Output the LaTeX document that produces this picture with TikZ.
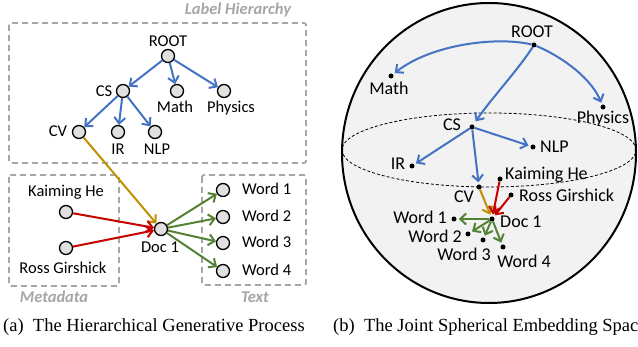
\documentclass[tikz,border=0pt]{standalone}
\usepackage{fontspec}
\newfontfamily\labfont{Carlito}
\newfontfamily\capfont{Liberation Serif}
\usetikzlibrary{arrows.meta}
\definecolor{cblue}{HTML}{4472C4}
\definecolor{cred}{HTML}{C80000}
\definecolor{cgold}{HTML}{BF9000}
\definecolor{cgreen}{HTML}{548235}
\definecolor{boxgray}{HTML}{A6A6A6}
\definecolor{cfill}{HTML}{E0E0E0}
\definecolor{sfill}{HTML}{F2F2F2}
\tikzset{
  lc/.style={circle,draw=black,fill=cfill,line width=1.3pt,minimum size=13pt,inner sep=0pt},
  dt/.style={circle,fill=black,minimum size=5pt,inner sep=0pt},
  lbl/.style={font=\labfont\fontsize{16.5}{18}\selectfont,inner sep=0pt},
  rlbl/.style={font=\labfont\fontsize{18}{20}\selectfont,inner sep=0pt},
  arr/.style={line width=2pt,-{Straight Barb[length=6pt,width=11pt]}},
  rarr/.style={arr,shorten >=2pt},
  grp/.style={draw=boxgray,line width=1.8pt,dash pattern=on 6pt off 4pt,rounded corners=2pt},
  ttl/.style={font=\labfont\bfseries\itshape\fontsize{16.5}{18}\selectfont,text=boxgray,inner sep=0pt},
  captext/.style={font=\capfont\fontsize{18.5}{20}\selectfont,inner sep=0pt}
}
\begin{document}
\begin{tikzpicture}[x=1pt,y=-1pt]
\useasboundingbox (0,0) rectangle (638,347);
% ---------- left panel ----------
\draw[grp] (9,23) rectangle (306,163);
\draw[grp] (9,175) rectangle (119,286);
\draw[grp] (202,175) rectangle (306,285);
\node[ttl,anchor=base] (tLH) at (238,15) {Label Hierarchy};
\node[ttl,anchor=base] (tMD) at (54,303) {Metadata};
\node[ttl,anchor=base] (tTX) at (255,303) {Text};

\node[lc] (aROOT) at (168,56) {};
\node[lc] (aCS) at (123,91) {};
\node[lc] (aMath) at (177,91) {};
\node[lc] (aPhys) at (224,91) {};
\node[lc] (aCV) at (79,132) {};
\node[lc] (aIR) at (118,132) {};
\node[lc] (aNLP) at (155,132) {};
\node[lc] (aKH) at (66,212) {};
\node[lc] (aRG) at (66,248) {};
\node[lc] (aDoc) at (161,229) {};
\node[lc] (aW1) at (223,190) {};
\node[lc] (aW2) at (223,217) {};
\node[lc] (aW3) at (223,243) {};
\node[lc] (aW4) at (223,271) {};

\node[lbl,anchor=base] (laROOT) at (168,47) {ROOT};
\node[lbl,anchor=base] (laCS) at (104,97) {CS};
\node[lbl,anchor=base] (laMath) at (175,113) {Math};
\node[lbl,anchor=base] (laPhys) at (231,113) {Physics};
\node[lbl,anchor=base] (laCV) at (58,137) {CV};
\node[lbl,anchor=base] (laIR) at (118,155) {IR};
\node[lbl,anchor=base] (laNLP) at (157,155) {NLP};
\node[lbl,anchor=base] (laKH) at (66,197) {Kaiming He};
\node[lbl,anchor=base] (laRG) at (63,274) {Ross Girshick};
\node[lbl,anchor=base] (laDoc) at (160,253) {Doc 1};
\node[lbl,anchor=base west] (laW1) at (242,195) {Word 1};
\node[lbl,anchor=base west] (laW2) at (242,222) {Word 2};
\node[lbl,anchor=base west] (laW3) at (242,248) {Word 3};
\node[lbl,anchor=base west] (laW4) at (242,276) {Word 4};

\draw[arr,cblue] (aROOT) -- (aCS);
\draw[arr,cblue] (aROOT) -- (aMath);
\draw[arr,cblue] (aROOT) -- (aPhys);
\draw[arr,cblue] (aCS) -- (aCV);
\draw[arr,cblue] (aCS) -- (aIR);
\draw[arr,cblue] (aCS) -- (aNLP);
\draw[arr,cgold] (aCV) -- (aDoc);
\draw[arr,cred] (aKH) -- (aDoc);
\draw[arr,cred] (aRG) -- (aDoc);
\draw[arr,cgreen] (aDoc) -- (aW1);
\draw[arr,cgreen] (aDoc) -- (aW2);
\draw[arr,cgreen] (aDoc) -- (aW3);
\draw[arr,cgreen] (aDoc) -- (aW4);

\node[captext,anchor=base west] (capA) at (3,332) {(a)~~The Hierarchical Generative Process};

% ---------- right panel ----------
\fill[sfill] (489,153) ellipse [x radius=147pt, y radius=150pt];
\draw[line width=0.8pt,dash pattern=on 3pt off 2pt] (489,150) ellipse [x radius=147pt, y radius=37pt];
\draw[line width=2pt] (489,153) ellipse [x radius=147pt, y radius=150pt];

\node[dt] (rROOT) at (534,45) {};
\node[dt] (rMath) at (391,76) {};
\node[dt] (rPhys) at (603,107) {};
\node[dt] (rCS) at (472,127) {};
\node[dt] (rNLP) at (533,147) {};
\node[dt] (rIR) at (412,166) {};
\node[dt] (rCV) at (479,187) {};
\node[dt] (rKH) at (500,179) {};
\node[dt] (rRG) at (511,195) {};
\node[dt] (rDoc) at (492,219) {};
\node[dt] (rW1) at (454,219) {};
\node[dt] (rW2) at (468,234) {};
\node[dt] (rW3) at (483,240) {};
\node[dt] (rW4) at (503,247) {};

\node[rlbl,anchor=base] (lbROOT) at (532,38) {ROOT};
\node[rlbl,anchor=base] (lbMath) at (389,95) {Math};
\node[rlbl,anchor=base] (lbPhys) at (603,124) {Physics};
\node[rlbl,anchor=base] (lbCS) at (452,131) {CS};
\node[rlbl,anchor=base west] (lbNLP) at (540,153) {NLP};
\node[rlbl,anchor=base] (lbIR) at (398,170) {IR};
\node[rlbl,anchor=base] (lbCV) at (464,203) {CV};
\node[rlbl,anchor=base west] (lbKH) at (505,180) {Kaiming He};
\node[rlbl,anchor=base west] (lbRG) at (519,202) {Ross Girshick};
\node[rlbl,anchor=base west] (lbDoc) at (500,228) {Doc 1};
\node[rlbl,anchor=base east] (lbW1) at (447,224) {Word 1};
\node[rlbl,anchor=base east] (lbW2) at (462,243) {Word 2};
\node[rlbl,anchor=base] (lbW3) at (464,261) {Word 3};
\node[rlbl,anchor=base] (lbW4) at (524,268) {Word 4};

\draw[rarr,cblue] (rROOT) .. controls (495,36) and (430,45) .. (rMath);
\draw[rarr,cblue] (rROOT) .. controls (565,58) and (592,80) .. (rPhys);
\draw[rarr,cblue,shorten >=4pt] (rROOT) .. controls (518,70) and (490,100) .. (rCS);
\draw[rarr,cblue] (rCS) -- (rIR);
\draw[rarr,cblue] (rCS) -- (rNLP);
\draw[rarr,cblue] (rCS) -- (rCV);
\draw[rarr,cgold] (rCV) -- (rDoc);
\draw[rarr,cred] (rKH) -- (rDoc);
\draw[rarr,cred] (rRG) -- (rDoc);
\draw[rarr,cgreen] (rDoc) -- (rW1);
\draw[rarr,cgreen] (rDoc) -- (rW2);
\draw[rarr,cgreen] (rDoc) -- (rW3);
\draw[rarr,cgreen] (rDoc) -- (rW4);

\node[captext,anchor=base west] (capB) at (333,332) {(b)~~The Joint Spherical Embedding Space};
\end{tikzpicture}
\end{document}
